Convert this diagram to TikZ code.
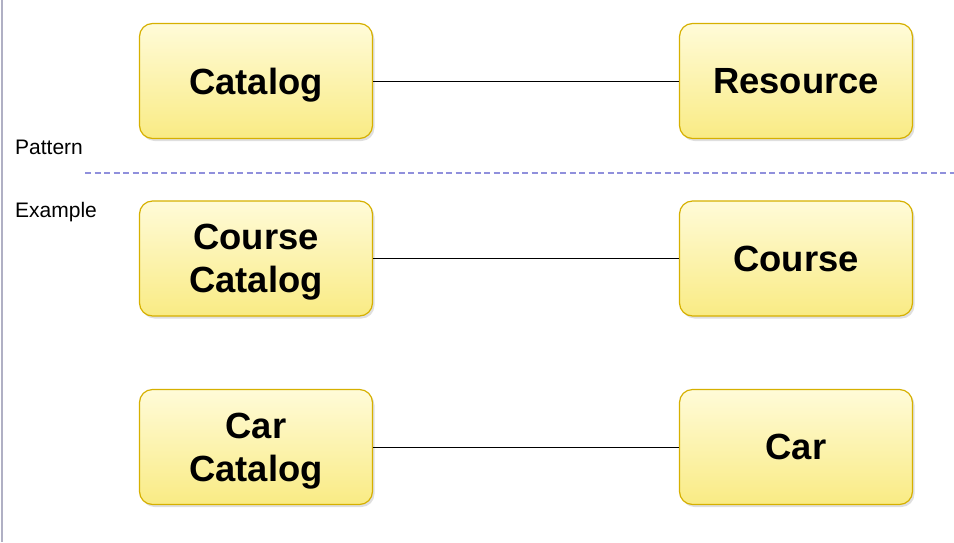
\documentclass[tikz,border=0pt]{standalone}
\usepackage{fontspec}
\setmainfont{Liberation Sans}
\usepackage{tikz}
\usetikzlibrary{shadows}

\definecolor{boxtop}{HTML}{FFFBD8}
\definecolor{boxbot}{HTML}{F9EB84}
\definecolor{boxedge}{HTML}{D6B000}
\definecolor{sepline}{HTML}{9090DC}
\definecolor{sideline}{HTML}{B0B0C4}

\begin{document}
\begin{tikzpicture}[x=1pt,y=-1pt,
    cls/.style={draw=boxedge, line width=1.2pt, rounded corners=13pt,
      top color=boxtop, bottom color=boxbot,
      minimum width=233pt, minimum height=115pt, align=center, text depth=0pt,
      font=\fontsize{36.4}{43}\selectfont\bfseries,
      drop shadow={opacity=0.25, shadow xshift=2pt, shadow yshift=-2.5pt}},
    lbl/.style={anchor=base west, font=\fontsize{21}{25}\selectfont}]
    \useasboundingbox (0,0) rectangle (954,542);
    \draw[sideline, line width=2pt] (2,0) -- (2,542);
    % pattern row
    \node[cls] (catalog) at (256,81) {Catalog};
    \node[cls] (resource) at (796,81) {Resource};
    \draw[thin] (catalog) -- (resource);
    % separator
    \node[lbl, inner sep=0pt] (pattern) at (15,154.3) {Pattern};
    \node[lbl, inner sep=0pt] (example) at (15,217.3) {Example};
    \coordinate (sepa) at (85,173);
    \coordinate (sepb) at (954,173);
    \draw[sepline, line width=1.3pt, dash pattern=on 6pt off 3.5pt] (sepa) -- (sepb);
    % examples
    \node[cls] (coursecat) at (256,258.5) {Course\\Catalog};
    \node[cls] (course) at (796,258.5) {Course};
    \draw[thin] (coursecat) -- (course);
    \node[cls] (carcat) at (256,447) {Car\\Catalog};
    \node[cls] (car) at (796,447) {Car};
    \draw[thin] (carcat) -- (car);
  \end{tikzpicture}
\end{document}
